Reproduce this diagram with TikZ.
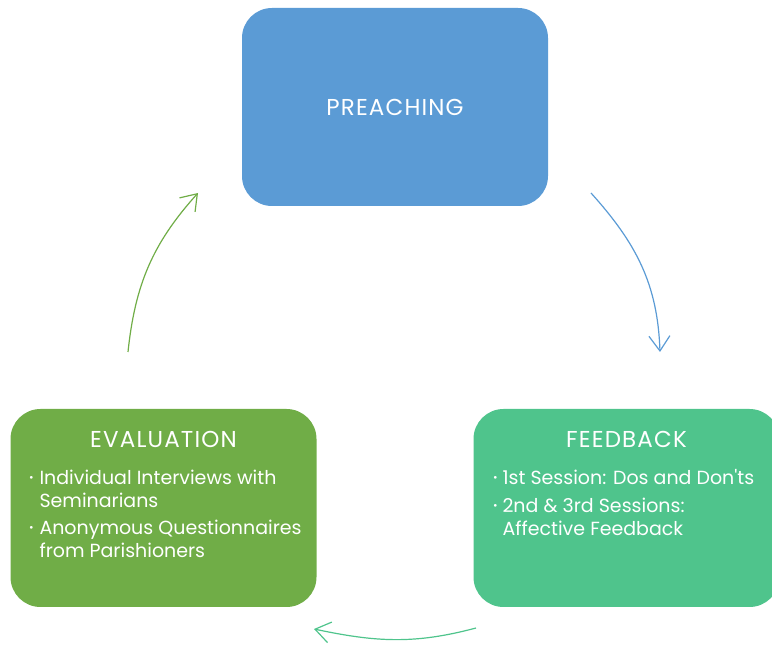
\documentclass[tikz,border=0pt]{standalone}
\usepackage{fontspec}
\setmainfont{Poppins}
\newfontfamily\spacedfont[LetterSpace=5]{Poppins}
\usetikzlibrary{arrows.meta}
\definecolor{preachblue}{RGB}{91,155,213}
\definecolor{evalgreen}{RGB}{112,173,71}
\definecolor{feedgreen}{RGB}{79,196,140}
\newcommand{\dotpt}{{\fontsize{11}{11}\selectfont\raisebox{2.5pt}{\textbullet}}}

\begin{document}
\begin{tikzpicture}[x=1pt,y=1pt,
  box/.style={rounded corners=30pt, minimum width=306pt, minimum height=198pt, inner sep=0pt},
  title/.style={text=white, font=\spacedfont\fontsize{23}{27}\selectfont},
  items/.style={text=white, font=\fontsize{19}{23}\selectfont, anchor=north west, align=left, inner sep=0pt},
  cyclearrow/.style={line width=1.2pt, -{Straight Barb[length=15pt,width=21pt,line width=1.2pt]}}]
  \clip (0,0) rectangle (772,645);

  \node[box, fill=preachblue] (preach) at (395,538) {};
  \node[box, fill=feedgreen] (feed) at (626.5,137) {};
  \node[box, fill=evalgreen] (eval) at (163.5,137) {};

  \node[title] (preachtitle) at (preach.center) {PREACHING};
  \node[title] (feedtitle) at ([yshift=-31pt]feed.north) {FEEDBACK};
  \node[title] (evaltitle) at ([yshift=-31pt]eval.north) {EVALUATION};

  \node[items] (feeditems) at ([xshift=19.5pt,yshift=-59pt]feed.north west)
  {\begin{tabular}{@{}l@{\hspace{5pt}}l@{}}
    \dotpt & 1st Session: Dos and Don\textquotesingle ts\\[5pt]
    \dotpt & 2nd \& 3rd Sessions:\\
           & Affective Feedback
  \end{tabular}};
  \node[items] (evalitems) at ([xshift=18.5pt,yshift=-59pt]eval.north west)
  {\begin{tabular}{@{}l@{\hspace{6pt}}l@{}}
    \dotpt & Individual Interviews with\\
           & Seminarians\\[4pt]
    \dotpt & Anonymous Questionnaires\\
           & from Parishioners
  \end{tabular}};

  \coordinate (bluestart) at (591,452);
  \coordinate (blueend) at (660,293);
  \coordinate (tealstart) at (476,17);
  \coordinate (tealend) at (314,16);
  \coordinate (greenstart) at (128,293);
  \coordinate (greenend) at (198,452);

  \draw[cyclearrow, preachblue] (bluestart) to[out=-48, in=92] (blueend);
  \draw[cyclearrow, feedgreen] (tealstart) to[out=195, in=-12] (tealend);
  \draw[cyclearrow, evalgreen] (greenstart) to[out=84, in=228] (greenend);
\end{tikzpicture}
\end{document}
